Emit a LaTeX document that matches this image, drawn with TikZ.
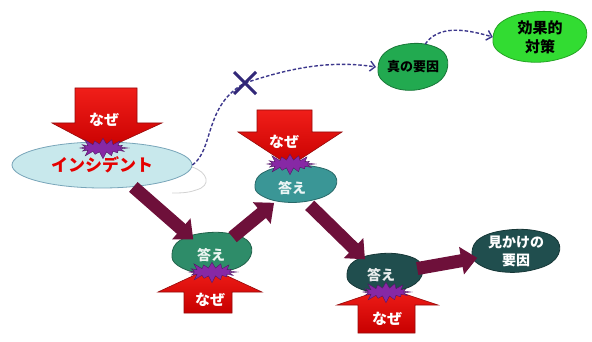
\documentclass[tikz,border=0pt]{standalone}
\usepackage{fontspec}
\newfontfamily\jp{Noto Sans CJK JP}
\usetikzlibrary{shapes.geometric,shapes.symbols,arrows.meta,calc}
\definecolor{maroonA}{RGB}{110,16,58}
\definecolor{redL}{RGB}{240,30,25}
\definecolor{redD}{RGB}{200,0,0}
\definecolor{redB}{RGB}{150,10,10}
\definecolor{burst}{RGB}{135,40,165}
\definecolor{incfill}{RGB}{200,232,236}
\definecolor{incdraw}{RGB}{120,165,185}
\definecolor{aOne}{RGB}{46,140,105}
\definecolor{aTwo}{RGB}{58,150,150}
\definecolor{aThree}{RGB}{32,78,78}
\definecolor{shin}{RGB}{34,170,80}
\definecolor{kouka}{RGB}{50,220,50}
\definecolor{dashc}{RGB}{60,55,140}
\definecolor{xc}{RGB}{50,40,120}
\newcommand\blob[6]{\filldraw[fill=#5,draw=#6,line width=0.8pt] plot[smooth cycle,tension=0.7] coordinates {(#1-#3,#2+0.05*#4) (#1-0.8*#3,#2-0.6*#4) (#1-0.2*#3,#2-0.95*#4) (#1+0.5*#3,#2-0.9*#4) (#1+0.95*#3,#2-0.45*#4) (#1+0.9*#3,#2+0.35*#4) (#1+0.4*#3,#2+0.85*#4) (#1-0.3*#3,#2+0.95*#4) (#1-0.85*#3,#2+0.6*#4)};}
\tikzset{
  blobnode/.style={ellipse,inner sep=0pt,align=center,text=white},
  bigarrow/.style={line width=13pt,draw=maroonA,-{Triangle[length=16pt 0 0,width=27pt 0 0]}},
  dashconn/.style={draw=dashc,line width=1.4pt,dash pattern=on 3.5pt off 2pt},
  nazetext/.style={text=white,font=\jp\bfseries\fontsize{15}{15}\selectfont},
  burstnode/.style={starburst,fill=burst,draw=burst!60!black,line width=0.4pt,minimum width=52pt,minimum height=24pt,starburst points=16,starburst point height=8pt,inner sep=0pt},
  redarrow/.style={top color=redL,bottom color=redD,draw=redB,line width=0.6pt}
}
\begin{document}
\begin{tikzpicture}[x=1pt,y=-1pt,font=\jp\bfseries]
\useasboundingbox[fill=white] (0,0) rectangle (592,342);
% faint arc
\draw[gray!35,line width=0.8pt] (192,167) .. controls (208,172) and (212,186) .. (196,190) .. controls (188,193) and (180,193) .. (172,193);
% incident ellipse
\node[ellipse,fill=incfill,draw=incdraw,line width=0.8pt,minimum width=180pt,minimum height=46pt,inner sep=0pt,text=red!90!black,font=\jp\bfseries\fontsize{17}{17}\selectfont] (inc) at (102,165) {インシデント};
% blobs
\blob{212}{253}{40}{21}{aOne}{aOne!70!black}
\blob{296}{184}{41}{19}{aTwo}{aTwo!70!black}
\blob{385}{273}{38}{20}{aThree}{aThree!70!black}
\blob{516}{251}{44}{22}{aThree}{aThree!70!black}
\blob{413}{67}{35}{24}{shin}{shin!70!black}
\blob{540}{37}{47}{26}{kouka}{kouka!75!black}
\node[blobnode,minimum width=80pt,minimum height=42pt,text=white!90!aOne,font=\jp\bfseries\fontsize{14}{14}\selectfont] (a1) at (211,255) {答え};
\node[blobnode,minimum width=82pt,minimum height=38pt,text=white!90!aTwo,font=\jp\bfseries\fontsize{14}{14}\selectfont] (a2) at (292,188) {答え};
\node[blobnode,minimum width=76pt,minimum height=40pt,text=white!90!aThree,font=\jp\bfseries\fontsize{14}{14}\selectfont] (a3) at (381,275) {答え};
\node[blobnode,minimum width=88pt,minimum height=44pt,font=\jp\bfseries\fontsize{14}{18}\selectfont] (m) at (516,251) {見かけの\\要因};
\node[blobnode,minimum width=70pt,minimum height=48pt,text=black,font=\jp\bfseries\fontsize{13}{13}\selectfont] (s) at (413,67) {真の要因};
\node[blobnode,minimum width=94pt,minimum height=52pt,text=black,font=\jp\bfseries\fontsize{15}{19}\selectfont] (k) at (540,37) {効果的\\対策};
% maroon arrows
\draw[bigarrow,shorten >=-4pt] (inc.-35) -- (a1);
\draw[bigarrow,shorten >=-3pt] (a1) -- (a2);
\draw[bigarrow,shorten >=-3pt] (a2) -- (a3);
\draw[bigarrow,shorten >=-3pt] (a3) -- (m);
% dashed path
\coordinate (xm) at (245,83);
\draw[dashconn] (inc.east) .. controls (214,150) and (204,105) .. (xm);
\draw[dashconn,-{Straight Barb[length=5pt,width=10pt]}] (xm) .. controls (290,68) and (330,60) .. (s.west);
\draw[dashconn,-{Straight Barb[length=5pt,width=10pt]}] (s.62) .. controls (438,26) and (462,28) .. (k.west);
\draw[xc,line width=3pt] ($(xm)+(-11,-11)$) -- ($(xm)+(11,11)$) ($(xm)+(-11,11)$) -- ($(xm)+(11,-11)$);
% red arrows
\shade[redarrow] (75,88) -- (137,88) -- (137,123) -- (162,123) -- (103,150) -- (52,123) -- (75,123) -- cycle;
\shade[redarrow] (257,110) -- (312,110) -- (312,132) -- (342,132) -- (290,166) -- (238,132) -- (257,132) -- cycle;
\shade[redarrow] (184,313) -- (232,313) -- (232,292) -- (262,292) -- (210,268) -- (158,292) -- (184,292) -- cycle;
\shade[redarrow] (358,333) -- (415,333) -- (415,305) -- (438,305) -- (387,288) -- (337,305) -- (358,305) -- cycle;
\node[nazetext] (n1) at (104,120) {なぜ};
\node[nazetext] (n2) at (284,142) {なぜ};
\node[nazetext] (n3) at (210,300) {なぜ};
\node[nazetext] (n4) at (387,319) {なぜ};
% starbursts
\node[burstnode] (b1) at (103,148) {};
\node[burstnode] (b2) at (290,164) {};
\node[burstnode] (b3) at (212,272) {};
\node[burstnode] (b4) at (386,292) {};
\end{tikzpicture}
\end{document}
